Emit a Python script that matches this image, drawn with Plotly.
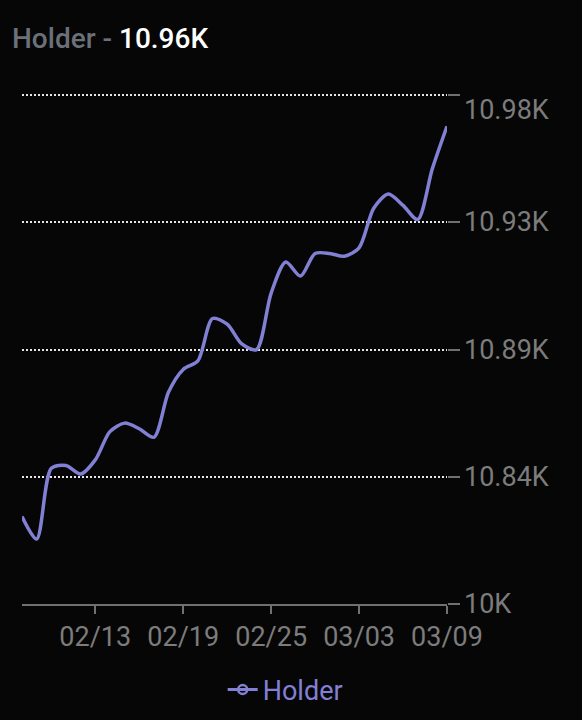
import plotly.graph_objects as go
import pandas as pd

# daily holder counts, 02/08 -> 03/09
holders = [10831, 10823, 10848, 10849, 10846, 10851, 10861, 10864, 10862, 10859,
           10875, 10883, 10886, 10901, 10899, 10892, 10890, 10910, 10921, 10916,
           10924, 10924, 10923, 10926, 10940, 10945, 10941, 10936, 10954, 10969]
dates = pd.date_range("2025-02-08", periods=len(holders), freq="D")

x_ticks = ["2025-02-13", "2025-02-19", "2025-02-25", "2025-03-03", "2025-03-09"]
y_ticks = [10800, 10845, 10890, 10935, 10980]
y_labels = ["10K", "10.84K", "10.89K", "10.93K", "10.98K"]

line_color = "#8280d4"
label_color = "#7c7c7c"
bg = "#060606"

W, H = 582, 720

fig = go.Figure()

fig.add_trace(go.Scatter(
    x=dates, y=holders, mode="lines", name="Holder",
    line=dict(color=line_color, width=3.5, shape="spline", smoothing=0.8),
    showlegend=False, hoverinfo="skip"
))
# legend entry (line + open circle like the original)
fig.add_trace(go.Scatter(
    x=[None], y=[None], mode="lines+markers", name="Holder",
    line=dict(color=line_color, width=3),
    marker=dict(symbol="circle-open", size=9, color=line_color, line=dict(width=2.5))
))

# right side y labels, top one sits a bit lower like the original
for v, t in zip(y_ticks, y_labels):
    fig.add_annotation(
        x=1, xref="paper", y=v, yref="y", text=t, showarrow=False,
        xanchor="left", yanchor="middle", xshift=15,
        yshift=-15 if v == y_ticks[-1] else 0,
        font=dict(size=27, color=label_color)
    )

fig.update_layout(
    width=W, height=H,
    paper_bgcolor=bg, plot_bgcolor=bg,
    font=dict(family="Roboto", size=27, color=label_color),
    margin=dict(l=22, r=135, t=94, b=113),
    title=dict(
        text="<span style='color:#6b7079'>Holder - </span><span style='color:#ffffff'>10.96K</span>",
        x=12 / W, xanchor="left", y=1 - 38 / H, yanchor="middle",
        font=dict(size=28, weight=500)
    ),
    xaxis=dict(
        range=[dates[0], dates[-1]],
        tickvals=x_ticks, tickformat="%m/%d",
        showgrid=False, zeroline=False,
        showline=True, linecolor="#707070", linewidth=2,
        ticks="outside", ticklen=8, tickwidth=2, tickcolor="#707070",
        tickfont=dict(size=27, color=label_color)
    ),
    yaxis=dict(
        range=[10800, 10980.4], side="right",
        tickvals=y_ticks, showticklabels=False,
        ticks="outside", ticklen=12, tickwidth=2, tickcolor="#707070",
        showgrid=True, gridcolor="#e6e6e6", gridwidth=1.5, griddash="2px,2px",
        zeroline=False, showline=False
    ),
    showlegend=True,
    legend=dict(
        orientation="h", xref="container", x=0.49, xanchor="center",
        yref="container", y=1 - 690 / H, yanchor="middle",
        font=dict(size=27, color=line_color), bgcolor="rgba(0,0,0,0)"
    ),
)

# drop the default 8px body margin so the figure fills the window
fig.write_html(
    "out.html",
    config={"displayModeBar": False},
    post_script="document.body.style.margin='0';document.body.style.background='%s';" % bg
)
